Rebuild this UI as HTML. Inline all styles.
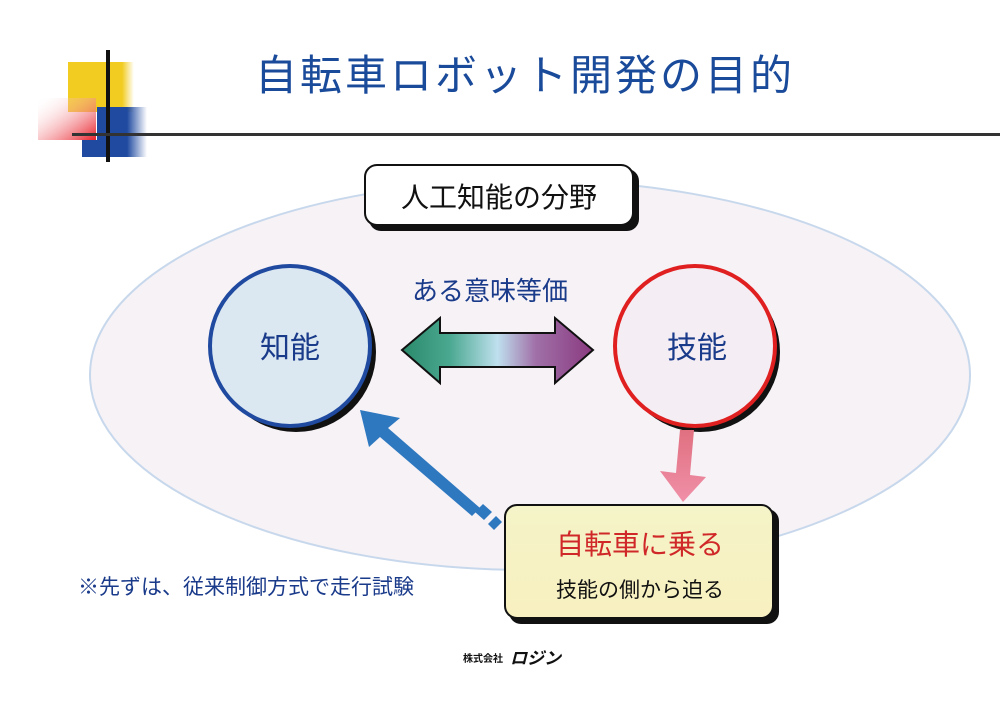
<!DOCTYPE html>
<html><head><meta charset="utf-8"><style>
html,body{margin:0;padding:0;background:#fff}
svg text{font-family:"Liberation Sans","Noto Sans CJK JP",sans-serif}
</style></head><body>
<svg width="1000" height="696" viewBox="0 0 1000 696" xmlns="http://www.w3.org/2000/svg">
<defs>
<linearGradient id="rg" x1="0" y1="0" x2="1" y2="1"><stop offset="0" stop-color="#fff" stop-opacity="0"/><stop offset="1" stop-color="#e8202a"/></linearGradient>
<linearGradient id="bg" x1="0" x2="1"><stop offset="0.6" stop-color="#1f4aa0"/><stop offset="1" stop-color="#1f4aa0" stop-opacity="0"/></linearGradient>
<linearGradient id="yg" x1="0" x2="1"><stop offset="0.6" stop-color="#f2cc20"/><stop offset="1" stop-color="#f2cc20" stop-opacity="0"/></linearGradient>
<linearGradient id="ag" x1="0" x2="1"><stop offset="0" stop-color="#2a8a6a"/><stop offset="0.25" stop-color="#4aa890"/><stop offset="0.5" stop-color="#bfe0ee"/><stop offset="0.7" stop-color="#a070a8"/><stop offset="1" stop-color="#8a3a80"/></linearGradient>
<linearGradient id="pg" x1="0" y1="0" x2="0" y2="1"><stop offset="0" stop-color="#e07080"/><stop offset="1" stop-color="#f090a8"/></linearGradient>
<linearGradient id="yb" x1="0" y1="0" x2="0" y2="1"><stop offset="0" stop-color="#f4f4c8"/><stop offset="1" stop-color="#f8f0c0"/></linearGradient>
</defs>
<!-- logo -->
<rect x="68" y="62" width="36" height="50" fill="#f2cc20"/><rect x="104" y="62" width="30" height="50" fill="url(#yg)"/>
<rect x="38" y="98" width="58" height="42" fill="url(#rg)"/>
<rect x="97" y="107" width="50" height="50" fill="url(#bg)"/><rect x="82" y="140" width="25" height="17" fill="#1f4aa0"/>
<rect x="106" y="50" width="4" height="112" fill="#111"/>
<rect x="72" y="133" width="928" height="3" fill="#333"/>
<text x="525" y="90" font-size="42" fill="#1a4a9a" text-anchor="middle" letter-spacing="3">自転車ロボット開発の目的</text>
<!-- ellipse -->
<ellipse cx="530" cy="375" rx="440" ry="195" fill="#f6f2f6" stroke="#c8d8ec" stroke-width="2"/>
<rect x="369" y="169" width="270" height="62" rx="12" fill="#111"/>
<rect x="365" y="165" width="268" height="60" rx="12" fill="#fff" stroke="#111" stroke-width="2"/>
<text x="499" y="207" font-size="28" fill="#111" text-anchor="middle">人工知能の分野</text>
<text x="490" y="300" font-size="26" fill="#1a3a8a" text-anchor="middle">ある意味等価</text>
<!-- circles -->
<circle cx="296" cy="352" r="80" fill="#111"/>
<circle cx="290" cy="346" r="80" fill="#dbe8f2" stroke="#1f4aa0" stroke-width="4"/>
<text x="290" y="358" font-size="30" fill="#1a3a8a" text-anchor="middle">知能</text>
<circle cx="700" cy="352" r="80" fill="#111"/>
<circle cx="695" cy="346" r="80" fill="#f4eef4" stroke="#e02020" stroke-width="4"/>
<text x="697" y="358" font-size="30" fill="#1a3a8a" text-anchor="middle">技能</text>
<!-- double arrow -->
<polygon points="402,350 440,318 440,333 555,333 555,318 593,350 555,383 555,367 440,367 440,383" fill="url(#ag)" stroke="#111" stroke-width="2"/>
<!-- blue arrow -->
<polygon points="360,410 400,418 388,428 480,508 472,516 380,437 369,447" fill="#2e78c0"/>
<polygon points="475,512 483,504 492,512 484,520" fill="#2e78c0"/>
<polygon points="488,524 496,516 502,522 494,530" fill="#2e78c0"/>
<!-- pink arrow -->
<polygon points="680,430 694,430 690,475 706,477 683,502 660,471 676,473" fill="url(#pg)"/>
<!-- bike box -->
<rect x="509" y="509" width="270" height="115" rx="12" fill="#111"/>
<rect x="505" y="505" width="268" height="113" rx="12" fill="url(#yb)" stroke="#111" stroke-width="2"/>
<text x="640" y="554" font-size="28" fill="#d02828" text-anchor="middle">自転車に乗る</text>
<text x="640" y="597" font-size="21" fill="#111" text-anchor="middle">技能の側から迫る</text>
<text x="78" y="594" font-size="21" fill="#1a3a8a">※先ずは、従来制御方式で走行試験</text>
<text x="463" y="662" font-size="10" fill="#111" font-weight="bold">株式会社</text>
<text x="510" y="664" font-size="17" fill="#111" font-weight="bold" font-style="italic">ロジン</text>
</svg>
</body></html>
